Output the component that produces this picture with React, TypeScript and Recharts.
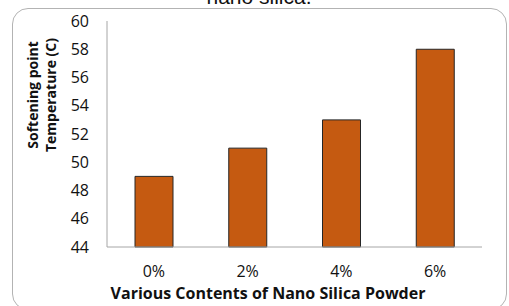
import React from 'react';
import { BarChart, Bar, XAxis, YAxis } from 'recharts';

const categories = ['0%', '2%', '4%', '6%'];
const softeningPoint = [49, 51, 53, 58];
const yTicks = [44, 46, 48, 50, 52, 54, 56, 58, 60];

const data = categories.map((c, i) => ({ content: c, value: softeningPoint[i] }));

const FONT = '"Open Sans", Lato, sans-serif';

export default function App() {
  return (
    <div style={{ position: 'fixed', left: 0, top: 0, width: 509, height: 306, background: '#fff', overflow: 'hidden' }}>
      <div
        style={{
          position: 'absolute',
          left: 12,
          top: 8,
          width: 493,
          height: 300,
          border: '1px solid #b3b3b3',
          borderRadius: 16,
        }}
      />
      <div
        style={{
          position: 'absolute',
          left: 0,
          width: 518,
          top: -14,
          lineHeight: '21px',
          textAlign: 'center',
          fontFamily: '"Liberation Sans", Arial, sans-serif',
          fontSize: 21,
          color: '#111',
        }}
      >
        nano silica.
      </div>
      <div style={{ position: 'absolute', left: 0, top: 0 }}>
        <BarChart width={509} height={306} data={data} margin={{ top: 21, right: 27, bottom: 0, left: 0 }}>
          <XAxis
            dataKey="content"
            height={59}
            axisLine={{ stroke: '#a6a6a6' }}
            tickLine={false}
            tickMargin={13}
            tick={{ fill: '#111', fontSize: 16, fontFamily: FONT }}
            label={{
              content: () => (
                <text x={268} y={299} textAnchor="middle" fontFamily={FONT} fontSize={16} fontWeight="bold" fill="#111">
                  Various Contents of Nano Silica Powder
                </text>
              ),
            }}
          />
          <YAxis
            width={107}
            domain={[44, 60]}
            ticks={yTicks}
            interval={0}
            axisLine={{ stroke: '#a6a6a6' }}
            tickLine={false}
            tickMargin={12}
            tick={{ fill: '#111', fontSize: 16, fontFamily: FONT }}
            label={{
              content: () => (
                <g transform="translate(0,95) rotate(-90)">
                  <text x={0} y={38} textAnchor="middle" fontFamily={FONT} fontSize={14} fontWeight="bold" fill="#111">
                    Softening point
                  </text>
                  <text x={0} y={56} textAnchor="middle" fontFamily={FONT} fontSize={14} fontWeight="bold" fill="#111">
                    Temperature (C)
                  </text>
                </g>
              ),
            }}
          />
          <Bar dataKey="value" barSize={38} fill="#c55a11" stroke="#262626" strokeWidth={1} isAnimationActive={false} />
        </BarChart>
      </div>
    </div>
  );
}
